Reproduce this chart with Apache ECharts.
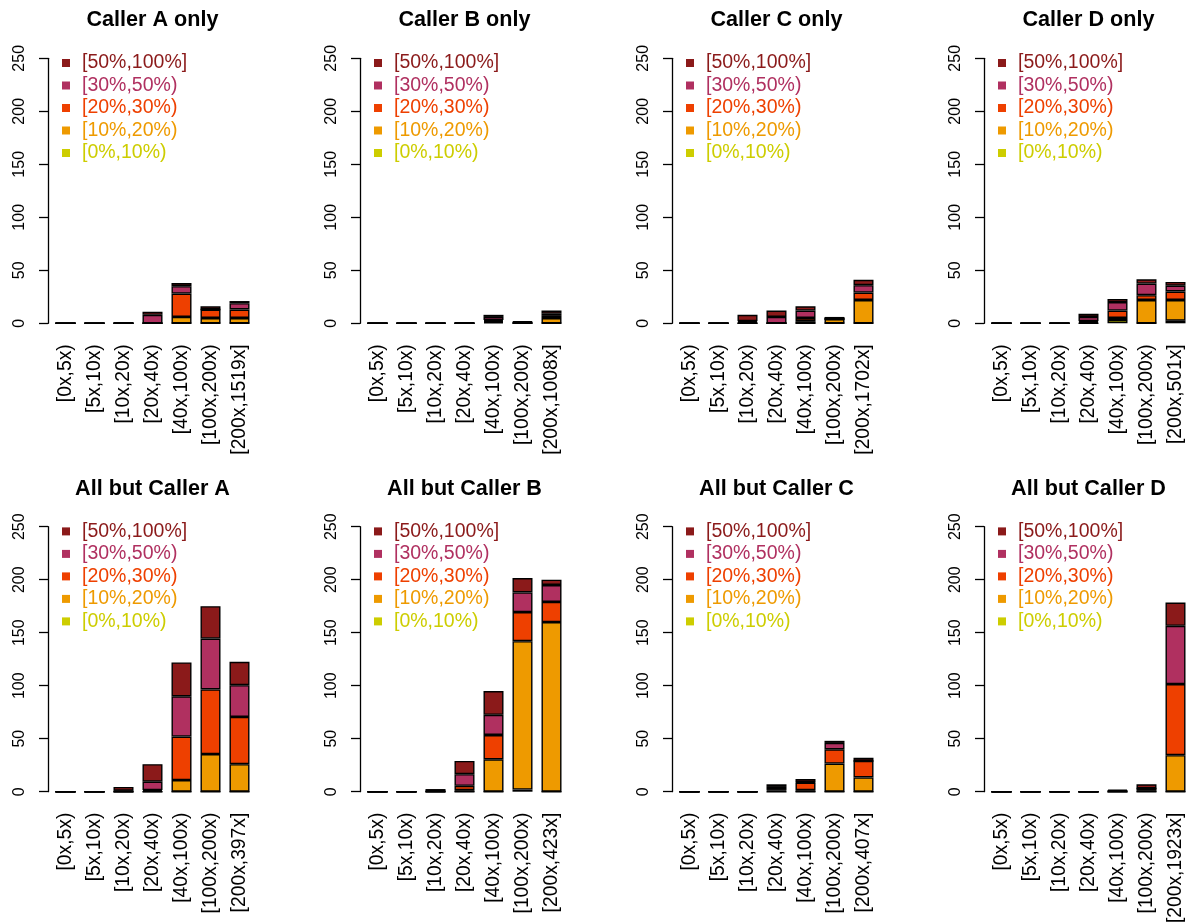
<!DOCTYPE html>
<html>
<head>
<meta charset="utf-8">
<script src="https://cdn.jsdelivr.net/npm/echarts@6/dist/echarts.min.js"></script>
<style>
html,body{margin:0;padding:0;background:#fff;}
#chart{width:1191px;height:923px;}
</style>
</head>
<body>
<div id="chart"></div>
<script>
// ---- data ----
const binLabels = ['[0x,5x)', '[5x,10x)', '[10x,20x)', '[20x,40x)', '[40x,100x)', '[100x,200x)'];
const lastBinLabels = ['[200x,1519x]', '[200x,1008x]', '[200x,1702x]', '[200x,501x]',
                       '[200x,397x]', '[200x,423x]', '[200x,407x]', '[200x,1923x]'];
const panelTitles = ['Caller A only', 'Caller B only', 'Caller C only', 'Caller D only',
                     'All but Caller A', 'All but Caller B', 'All but Caller C', 'All but Caller D'];
const bandNames = ['[0%,10%)', '[10%,20%)', '[20%,30%)', '[30%,50%)', '[50%,100%]'];
const bandColors = ['#CDCD00', '#EE9A00', '#EE4000', '#B03060', '#8B1A1A'];
const yTicks = [0, 50, 100, 150, 200, 250];

// rows: [0%,10%), [10%,20%), [20%,30%), [30%,50%), [50%,100%]; columns: bins
const callerAOnly = [
  [0, 0, 0, 0, 0, 0, 0],
  [0, 0, 0, 0, 6, 5, 5],
  [0, 0, 0, 0, 22, 8, 8],
  [0, 0, 0, 8, 7, 0, 6],
  [0, 0, 1, 3, 3, 3, 2]
];
const callerBOnly = [
  [0, 0, 0, 0, 1, 0, 0],
  [0, 0, 0, 0, 1, 0, 5],
  [0, 0, 0, 0, 1, 1, 2],
  [0, 0, 0, 0, 3, 0, 2],
  [0, 0, 0, 1, 2, 1, 3]
];
const callerCOnly = [
  [0, 0, 0, 0, 0, 0, 0],
  [0, 0, 0, 0, 2, 4, 22],
  [0, 0, 1, 0, 3, 0, 7],
  [0, 0, 1, 6, 7, 0, 7],
  [0, 0, 6, 6, 4, 2, 5]
];
const callerDOnly = [
  [0, 0, 0, 0, 3, 0, 2.5],
  [0, 0, 0, 1, 2, 22, 19.5],
  [0, 0, 0, 1, 7, 4.5, 8],
  [0, 0, 0, 4, 8, 11, 5.5],
  [0, 0, 0, 3, 3, 4, 3.5]
];
const allButA = [
  [0, 0, 0, 0, 0, 0, 0],
  [0, 0, 0, 0.5, 11, 35.5, 26],
  [0, 0, 0.5, 1, 41, 61, 44.5],
  [0, 0, 0.5, 8, 38, 48, 30],
  [0, 0, 3.5, 16.5, 32, 30.5, 22]
];
const allButB = [
  [0, 0, 0, 0, 0, 2, 0],
  [0, 0, 0, 1.5, 30.5, 140, 160],
  [0, 0, 0.5, 4, 23, 27.5, 19],
  [0, 0, 0, 11, 19, 18.5, 16],
  [0, 0, 2, 12.5, 22.5, 13.5, 5]
];
const allButC = [
  [0, 0, 0, 0, 0, 0, 0],
  [0, 0, 0, 1, 1.5, 26.5, 13.5],
  [0, 0, 0, 1.5, 7, 13.5, 15.5],
  [0, 0, 0, 2, 0.5, 6, 0],
  [0, 0, 0, 2.5, 3, 2, 3]
];
const allButD = [
  [0, 0, 0, 0, 0, 0, 0],
  [0, 0, 0, 0, 0, 1.5, 34.5],
  [0, 0, 0, 0, 1, 1.5, 67],
  [0, 0, 0, 0, 0, 0, 55],
  [0, 0, 0, 0, 1, 4, 22]
];
const panelData = [callerAOnly, callerBOnly, callerCOnly, callerDOnly, allButA, allButB, allButC, allButD];

// ---- layout ----
const FONT = 'Liberation Sans, Arial, Helvetica, sans-serif';
const colStep = 312, axisX0 = 48;
const rowTop = [58.3, 526.7], plotH = 265, rowStep = 468.4;
const band = 29;

const grid = [], xAxis = [], yAxis = [], series = [], legend = [], title = [];
panelData.forEach((data, p) => {
  const c = p % 4, r = Math.floor(p / 4);
  const axisX = axisX0 + colStep * c;
  const left = axisX + 3;
  grid.push({left: left, top: rowTop[r], width: band * 7, height: plotH,
             containLabel: false, outerBoundsMode: 'none'});
  xAxis.push({
    type: 'category', gridIndex: p, data: binLabels.concat([lastBinLabels[p]]),
    axisLine: {show: false}, axisTick: {show: false},
    axisLabel: {rotate: 90, interval: 0, fontSize: 19.3, color: '#000', fontFamily: FONT, margin: 21}
  });
  yAxis.push({
    type: 'value', gridIndex: p, min: yTicks[0], max: yTicks[yTicks.length - 1], interval: 50,
    offset: 3,
    axisLine: {show: true, lineStyle: {color: '#000', width: 1.3}},
    axisTick: {show: true, length: 9, lineStyle: {color: '#000', width: 1.3}},
    axisLabel: {rotate: 90, fontSize: 16, color: '#000', fontFamily: FONT, margin: 20},
    splitLine: {show: false}
  });
  data.forEach((vals, k) => {
    series.push({
      type: 'bar', name: bandNames[k], xAxisIndex: p, yAxisIndex: p, stack: 'p' + p,
      data: vals, barWidth: 20,
      itemStyle: {color: bandColors[k], borderColor: '#000', borderWidth: 1.4},
      emphasis: {disabled: true}, animation: false
    });
  });
  title.push({
    text: panelTitles[p], left: left + band * 3.5, top: 9.5 + rowStep * r, textAlign: 'center',
    padding: 0,
    textStyle: {fontSize: 21.6, fontWeight: 'bold', color: '#000', fontFamily: FONT}
  });
  legend.push({
    orient: 'vertical', left: axisX + 14, top: 51.75 + rowStep * r, padding: 0,
    itemWidth: 8, itemHeight: 8, itemGap: 0, icon: 'rect', selectedMode: false,
    itemStyle: {borderWidth: 0},
    textStyle: {fontSize: 19.5, lineHeight: 22.5, fontFamily: FONT, padding: [0, 0, 0, 7]},
    data: bandNames.slice().reverse().map((n) => ({
      name: n, textStyle: {color: bandColors[bandNames.indexOf(n)]}
    }))
  });
});

const chart = echarts.init(document.getElementById('chart'), null, {renderer: 'canvas'});
chart.setOption({
  animation: false, backgroundColor: '#fff',
  title: title, grid: grid, xAxis: xAxis, yAxis: yAxis, legend: legend, series: series
});
</script>
</body>
</html>
